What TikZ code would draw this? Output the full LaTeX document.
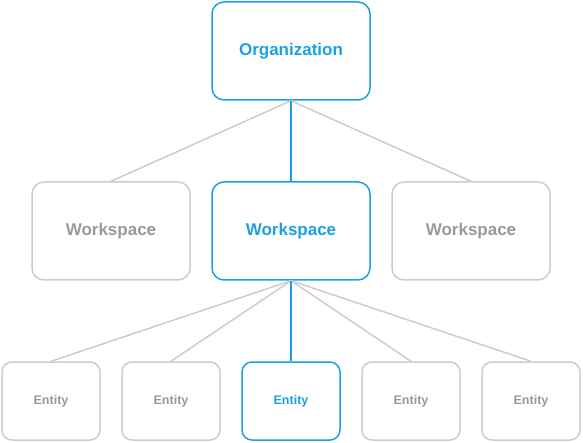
\documentclass[tikz,border=0pt]{standalone}
\usepackage{fontspec}
\setmainfont{Liberation Sans}
\usetikzlibrary{positioning}
\definecolor{hiblue}{HTML}{1BA1E2}
\definecolor{lightgray}{HTML}{CCCCCC}
\definecolor{textgray}{HTML}{999999}

\begin{document}
\begin{tikzpicture}[x=1pt, y=-1pt]
  % Styles
  \tikzset{
    bigbox/.style={draw=lightgray, line width=1.5pt, rounded corners=12pt, align=center,
      minimum width=158pt, minimum height=98pt, text=textgray,
      font=\fontsize{17}{20}\selectfont\bfseries, inner sep=0pt},
    entbox/.style={draw=lightgray, line width=1.5pt, rounded corners=10pt, align=center,
      minimum width=98pt, minimum height=78pt, text=textgray,
      font=\fontsize{12.5}{15}\selectfont\bfseries, inner sep=0pt},
    active/.style={draw=hiblue, text=hiblue},
    link/.style={draw=lightgray, line width=1.5pt},
    hilink/.style={draw=hiblue, line width=1.5pt},
  }
  \useasboundingbox (0,0) rectangle (583,443);

  % Top
  \node[bigbox, active] (org) at (291,51) {Organization};

  % Row 2: Workspaces
  \node[bigbox] (wsleft) at (111,231) {Workspace};
  \node[bigbox, active] (wsmid) at (291,231) {Workspace};
  \node[bigbox] (wsright) at (471,231) {Workspace};

  % Row 3: Entities
  \node[entbox] (ent1) at (51,401) {Entity};
  \node[entbox] (ent2) at (171,401) {Entity};
  \node[entbox, active] (ent3) at (291,401) {Entity};
  \node[entbox] (ent4) at (411,401) {Entity};
  \node[entbox] (ent5) at (531,401) {Entity};

  % Edges
  \draw[link] (org.south) -- (wsleft.north);
  \draw[link] (org.south) -- (wsright.north);
  \draw[hilink] (org.south) -- (wsmid.north);
  \draw[link] (wsmid.south) -- (ent1.north);
  \draw[link] (wsmid.south) -- (ent2.north);
  \draw[link] (wsmid.south) -- (ent4.north);
  \draw[link] (wsmid.south) -- (ent5.north);
  \draw[hilink] (wsmid.south) -- (ent3.north);
\end{tikzpicture}
\end{document}
